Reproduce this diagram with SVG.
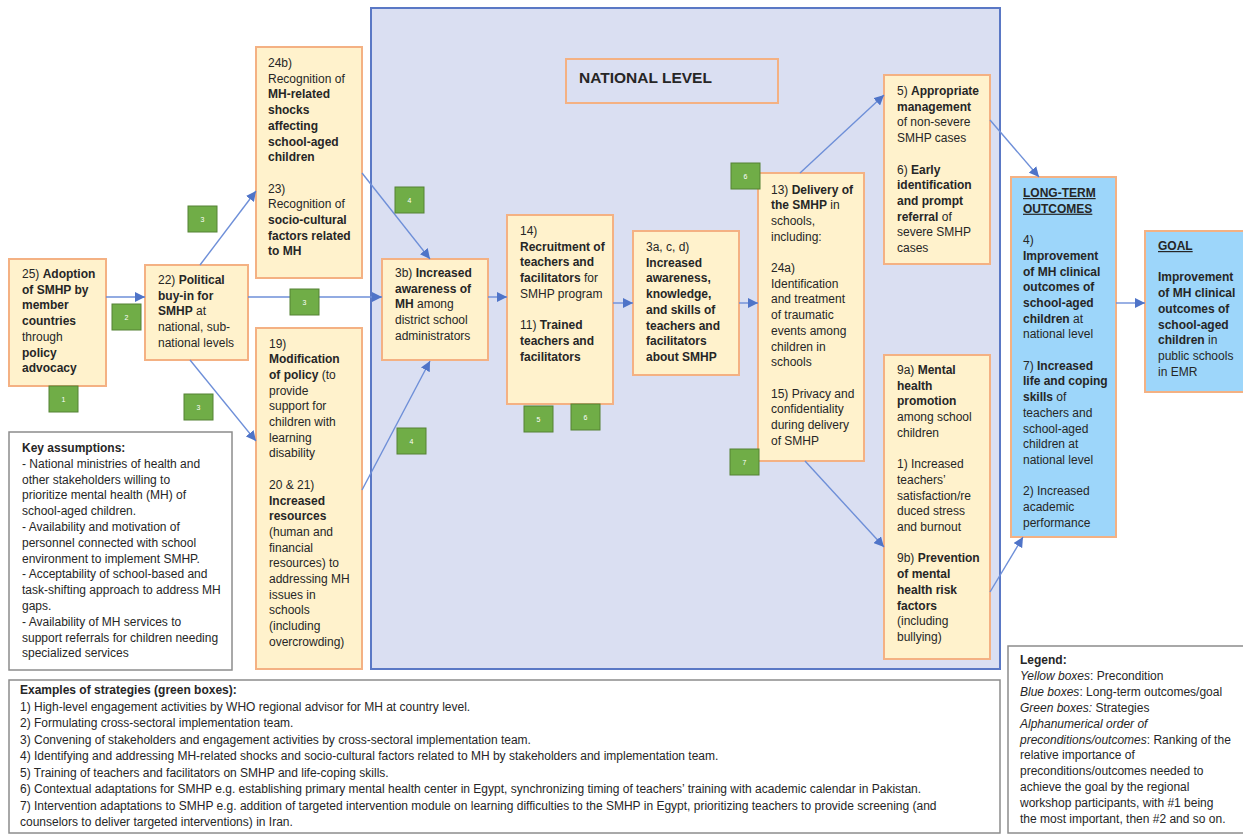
<svg xmlns="http://www.w3.org/2000/svg" width="1243" height="835" viewBox="0 0 1243 835">
<style>
.t{font-family:"Liberation Sans",Arial,sans-serif;font-size:12px;fill:#262626}
.b{font-weight:bold}
.i{font-style:italic}
.u{text-decoration:underline}
.yb{fill:#FFF2CC;stroke:#F4B183;stroke-width:2}
.bb{fill:#9DD6FA;stroke:#F4B183;stroke-width:2}
.gb{fill:#70AD47;stroke:#548235;stroke-width:1}
.gt{font-family:"Liberation Sans",Arial,sans-serif;font-size:7px;fill:#ffffff;text-anchor:middle}
.wb{fill:#ffffff;stroke:#8C8C8C;stroke-width:1.5}
.c{fill:none;stroke:#6E8FD8;stroke-width:1.4}
</style>
<defs>
<marker id="ah" markerUnits="userSpaceOnUse" markerWidth="11" markerHeight="10" refX="10" refY="5" orient="auto">
<path d="M0,0 L10,5 L0,10 Z" fill="#4F74C8"/>
</marker>
</defs>
<rect x="0" y="0" width="1243" height="835" fill="#ffffff"/>

<g id="national-panel">
<rect x="371" y="8" width="629" height="661" fill="#DADFF2" stroke="#5A78C5" stroke-width="2"/>
<rect x="566" y="59" width="212" height="44" fill="#FFF2CC" stroke="#F4B183" stroke-width="2" fill-opacity="0"/>
<text class="t b" x="579" y="83" style="font-size:15.5px">NATIONAL LEVEL</text>
</g>

<g id="n25">
<rect class="yb" x="9" y="259" width="97" height="127"/>
<text class="t" x="22" y="278">25) <tspan class="b">Adoption</tspan></text>
<text class="t b" x="22" y="293.7">of SMHP by</text>
<text class="t b" x="22" y="309.4">member</text>
<text class="t b" x="22" y="325.1">countries</text>
<text class="t" x="22" y="340.8">through</text>
<text class="t b" x="22" y="356.5">policy</text>
<text class="t b" x="22" y="372.2">advocacy</text>
</g>

<g id="n22">
<rect class="yb" x="145" y="265" width="103" height="95"/>
<text class="t" x="158" y="284">22) <tspan class="b">Political</tspan></text>
<text class="t b" x="158" y="299.7">buy-in for</text>
<text class="t" x="158" y="315.4"><tspan class="b">SMHP</tspan> at</text>
<text class="t" x="158" y="331.1">national, sub-</text>
<text class="t" x="158" y="346.8">national levels</text>
</g>

<g id="n24b">
<rect class="yb" x="256" y="47" width="106" height="231"/>
<text class="t" x="268" y="67">24b)</text>
<text class="t" x="268" y="82.7">Recognition of</text>
<text class="t b" x="268" y="98.4">MH-related</text>
<text class="t b" x="268" y="114.1">shocks</text>
<text class="t b" x="268" y="129.8">affecting</text>
<text class="t b" x="268" y="145.5">school-aged</text>
<text class="t b" x="268" y="161.2">children</text>
<text class="t" x="268" y="192.6">23)</text>
<text class="t" x="268" y="208.3">Recognition of</text>
<text class="t b" x="268" y="224">socio-cultural</text>
<text class="t b" x="268" y="239.7">factors related</text>
<text class="t b" x="268" y="255.4">to MH</text>
</g>

<g id="n19">
<rect class="yb" x="256" y="328" width="106" height="341"/>
<text class="t" x="269" y="347.5">19)</text>
<text class="t b" x="269" y="363.2">Modification</text>
<text class="t" x="269" y="378.9"><tspan class="b">of policy</tspan> (to</text>
<text class="t" x="269" y="394.6">provide</text>
<text class="t" x="269" y="410.3">support for</text>
<text class="t" x="269" y="426">children with</text>
<text class="t" x="269" y="441.7">learning</text>
<text class="t" x="269" y="457.4">disability</text>
<text class="t" x="269" y="488.8">20 &amp; 21)</text>
<text class="t b" x="269" y="504.5">Increased</text>
<text class="t b" x="269" y="520.2">resources</text>
<text class="t" x="269" y="535.9">(human and</text>
<text class="t" x="269" y="551.6">financial</text>
<text class="t" x="269" y="567.3">resources) to</text>
<text class="t" x="269" y="583">addressing MH</text>
<text class="t" x="269" y="598.7">issues in</text>
<text class="t" x="269" y="614.4">schools</text>
<text class="t" x="269" y="630.1">(including</text>
<text class="t" x="269" y="645.8">overcrowding)</text>
</g>

<g id="n3b">
<rect class="yb" x="382" y="259" width="106" height="101"/>
<text class="t" x="395" y="277">3b) <tspan class="b">Increased</tspan></text>
<text class="t b" x="395" y="292.7">awareness of</text>
<text class="t" x="395" y="308.4"><tspan class="b">MH</tspan> among</text>
<text class="t" x="395" y="324.1">district school</text>
<text class="t" x="395" y="339.8">administrators</text>
</g>

<g id="n14">
<rect class="yb" x="507" y="215" width="106" height="189"/>
<text class="t" x="520" y="235">14)</text>
<text class="t b" x="520" y="250.7">Recruitment of</text>
<text class="t b" x="520" y="266.4">teachers and</text>
<text class="t" x="520" y="282.1"><tspan class="b">facilitators</tspan> for</text>
<text class="t" x="520" y="297.8">SMHP program</text>
<text class="t" x="520" y="329.2">11) <tspan class="b">Trained</tspan></text>
<text class="t b" x="520" y="344.9">teachers and</text>
<text class="t b" x="520" y="360.6">facilitators</text>
</g>

<g id="n3a">
<rect class="yb" x="633" y="231" width="106" height="144"/>
<text class="t" x="646" y="251">3a, c, d)</text>
<text class="t b" x="646" y="266.7">Increased</text>
<text class="t b" x="646" y="282.4">awareness,</text>
<text class="t b" x="646" y="298.1">knowledge,</text>
<text class="t b" x="646" y="313.8">and skills of</text>
<text class="t b" x="646" y="329.5">teachers and</text>
<text class="t b" x="646" y="345.2">facilitators</text>
<text class="t b" x="646" y="360.9">about SMHP</text>
</g>

<g id="n13">
<rect class="yb" x="758" y="173" width="106" height="288"/>
<text class="t" x="771" y="193.5">13) <tspan class="b">Delivery of</tspan></text>
<text class="t" x="771" y="209.2"><tspan class="b">the SMHP</tspan> in</text>
<text class="t" x="771" y="224.9">schools,</text>
<text class="t" x="771" y="240.6">including:</text>
<text class="t" x="771" y="272">24a)</text>
<text class="t" x="771" y="287.7">Identification</text>
<text class="t" x="771" y="303.4">and treatment</text>
<text class="t" x="771" y="319.1">of traumatic</text>
<text class="t" x="771" y="334.8">events among</text>
<text class="t" x="771" y="350.5">children in</text>
<text class="t" x="771" y="366.2">schools</text>
<text class="t" x="771" y="397.6">15) Privacy and</text>
<text class="t" x="771" y="413.3">confidentiality</text>
<text class="t" x="771" y="429">during delivery</text>
<text class="t" x="771" y="444.7">of SMHP</text>
</g>

<g id="n5-6">
<rect class="yb" x="884" y="75" width="106" height="189"/>
<text class="t" x="897" y="95">5) <tspan class="b">Appropriate</tspan></text>
<text class="t b" x="897" y="110.7">management</text>
<text class="t" x="897" y="126.4">of non-severe</text>
<text class="t" x="897" y="142.1">SMHP cases</text>
<text class="t" x="897" y="173.5">6) <tspan class="b">Early</tspan></text>
<text class="t b" x="897" y="189.2">identification</text>
<text class="t b" x="897" y="204.9">and prompt</text>
<text class="t" x="897" y="220.6"><tspan class="b">referral</tspan> of</text>
<text class="t" x="897" y="236.3">severe SMHP</text>
<text class="t" x="897" y="252">cases</text>
</g>

<g id="n9">
<rect class="yb" x="884" y="355" width="106" height="304"/>
<text class="t" x="897" y="374">9a) <tspan class="b">Mental</tspan></text>
<text class="t b" x="897" y="389.7">health</text>
<text class="t b" x="897" y="405.4">promotion</text>
<text class="t" x="897" y="421.1">among school</text>
<text class="t" x="897" y="436.8">children</text>
<text class="t" x="897" y="468.2">1) Increased</text>
<text class="t" x="897" y="483.9">teachers’</text>
<text class="t" x="897" y="499.6">satisfaction/re</text>
<text class="t" x="897" y="515.3">duced stress</text>
<text class="t" x="897" y="531">and burnout</text>
<text class="t" x="897" y="562.4">9b) <tspan class="b">Prevention</tspan></text>
<text class="t b" x="897" y="578.1">of mental</text>
<text class="t b" x="897" y="593.8">health risk</text>
<text class="t b" x="897" y="609.5">factors</text>
<text class="t" x="897" y="625.2">(including</text>
<text class="t" x="897" y="640.9">bullying)</text>
</g>

<g id="long-term-outcomes">
<rect class="bb" x="1011" y="177" width="105" height="360"/>
<text class="t b u" x="1023" y="197">LONG-TERM</text>
<text class="t b u" x="1023" y="212.7">OUTCOMES</text>
<text class="t" x="1023" y="244.1">4)</text>
<text class="t b" x="1023" y="259.8">Improvement</text>
<text class="t b" x="1023" y="275.5">of MH clinical</text>
<text class="t b" x="1023" y="291.2">outcomes of</text>
<text class="t b" x="1023" y="306.9">school-aged</text>
<text class="t" x="1023" y="322.6"><tspan class="b">children</tspan> at</text>
<text class="t" x="1023" y="338.3">national level</text>
<text class="t" x="1023" y="369.7">7) <tspan class="b">Increased</tspan></text>
<text class="t b" x="1023" y="385.4">life and coping</text>
<text class="t" x="1023" y="401.1"><tspan class="b">skills</tspan> of</text>
<text class="t" x="1023" y="416.8">teachers and</text>
<text class="t" x="1023" y="432.5">school-aged</text>
<text class="t" x="1023" y="448.2">children at</text>
<text class="t" x="1023" y="463.9">national level</text>
<text class="t" x="1023" y="495.3">2) Increased</text>
<text class="t" x="1023" y="511">academic</text>
<text class="t" x="1023" y="526.7">performance</text>
</g>

<g id="goal">
<rect class="bb" x="1145" y="231" width="100" height="161"/>
<text class="t b u" x="1158" y="250">GOAL</text>
<text class="t b" x="1158" y="281.4">Improvement</text>
<text class="t b" x="1158" y="297.1">of MH clinical</text>
<text class="t b" x="1158" y="312.8">outcomes of</text>
<text class="t b" x="1158" y="328.5">school-aged</text>
<text class="t" x="1158" y="344.2"><tspan class="b">children</tspan> in</text>
<text class="t" x="1158" y="359.9">public schools</text>
<text class="t" x="1158" y="375.6">in EMR</text>
</g>

<g id="connectors">
<line class="c" x1="106" y1="297" x2="145" y2="297" marker-end="url(#ah)"/>
<line class="c" x1="200" y1="265" x2="256" y2="191" marker-end="url(#ah)"/>
<line class="c" x1="248" y1="297" x2="382" y2="297" marker-end="url(#ah)"/>
<line class="c" x1="190" y1="360" x2="256" y2="441" marker-end="url(#ah)"/>
<line class="c" x1="362" y1="173" x2="430" y2="259" marker-end="url(#ah)"/>
<line class="c" x1="362" y1="490" x2="430" y2="361" marker-end="url(#ah)"/>
<line class="c" x1="488" y1="297" x2="507" y2="297" marker-end="url(#ah)"/>
<line class="c" x1="613" y1="303" x2="633" y2="303" marker-end="url(#ah)"/>
<line class="c" x1="739" y1="303" x2="758" y2="303" marker-end="url(#ah)"/>
<line class="c" x1="800" y1="173" x2="884" y2="95" marker-end="url(#ah)"/>
<line class="c" x1="805" y1="461" x2="884" y2="547" marker-end="url(#ah)"/>
<line class="c" x1="990" y1="120" x2="1039" y2="177" marker-end="url(#ah)"/>
<line class="c" x1="990" y1="592" x2="1023" y2="537" marker-end="url(#ah)"/>
<line class="c" x1="1116" y1="303" x2="1145" y2="303" marker-end="url(#ah)"/>
</g>

<g id="s1"><rect class="gb" x="49" y="386" width="29" height="26"/><text class="gt" x="63.5" y="401.5">1</text></g>
<g id="s2"><rect class="gb" x="112" y="304" width="29" height="26"/><text class="gt" x="126.5" y="319.5">2</text></g>
<g id="s3a"><rect class="gb" x="188" y="206" width="29" height="26"/><text class="gt" x="202.5" y="221.5">3</text></g>
<g id="s3b"><rect class="gb" x="290" y="289" width="29" height="26"/><text class="gt" x="304.5" y="304.5">3</text></g>
<g id="s3c"><rect class="gb" x="184" y="394" width="29" height="26"/><text class="gt" x="198.5" y="409.5">3</text></g>
<g id="s4a"><rect class="gb" x="395" y="187" width="29" height="26"/><text class="gt" x="409.5" y="202.5">4</text></g>
<g id="s4b"><rect class="gb" x="397" y="428" width="29" height="26"/><text class="gt" x="411.5" y="443.5">4</text></g>
<g id="s5"><rect class="gb" x="524" y="406" width="29" height="26"/><text class="gt" x="538.5" y="421.5">5</text></g>
<g id="s6a"><rect class="gb" x="571" y="404" width="29" height="26"/><text class="gt" x="585.5" y="419.5">6</text></g>
<g id="s6b"><rect class="gb" x="731" y="163" width="29" height="26"/><text class="gt" x="745.5" y="178.5">6</text></g>
<g id="s7"><rect class="gb" x="730" y="449" width="29" height="26"/><text class="gt" x="744.5" y="464.5">7</text></g>

<g id="key-assumptions">
<rect class="wb" x="9" y="432" width="223" height="238"/>
<text class="t b" x="22" y="452">Key assumptions:</text>
<text class="t" x="22" y="467.8">- National ministries of health and</text>
<text class="t" x="22" y="483.6">other stakeholders willing to</text>
<text class="t" x="22" y="499.4">prioritize mental health (MH) of</text>
<text class="t" x="22" y="515.2">school-aged children.</text>
<text class="t" x="22" y="531">- Availability and motivation of</text>
<text class="t" x="22" y="546.8">personnel connected with school</text>
<text class="t" x="22" y="562.6">environment to implement SMHP.</text>
<text class="t" x="22" y="578.4">- Acceptability of school-based and</text>
<text class="t" x="22" y="594.2">task-shifting approach to address MH</text>
<text class="t" x="22" y="610">gaps.</text>
<text class="t" x="22" y="625.8">- Availability of MH services to</text>
<text class="t" x="22" y="641.6">support referrals for children needing</text>
<text class="t" x="22" y="657.4">specialized services</text>
</g>

<g id="strategies">
<rect class="wb" x="9" y="680" width="991" height="153"/>
<text class="t b" x="20" y="694">Examples of strategies (green boxes):</text>
<text class="t" x="20" y="710.5">1) High-level engagement activities by WHO regional advisor for MH at country level.</text>
<text class="t" x="20" y="727">2) Formulating cross-sectoral implementation team.</text>
<text class="t" x="20" y="743.5">3) Convening of stakeholders and engagement activities by cross-sectoral implementation team.</text>
<text class="t" x="20" y="760">4) Identifying and addressing MH-related shocks and socio-cultural factors related to MH by stakeholders and implementation team.</text>
<text class="t" x="20" y="776.5">5) Training of teachers and facilitators on SMHP and life-coping skills.</text>
<text class="t" x="20" y="793">6) Contextual adaptations for SMHP e.g. establishing primary mental health center in Egypt, synchronizing timing of teachers’ training with academic calendar in Pakistan.</text>
<text class="t" x="20" y="809.5">7) Intervention adaptations to SMHP e.g. addition of targeted intervention module on learning difficulties to the SMHP in Egypt, prioritizing teachers to provide screening (and</text>
<text class="t" x="20" y="826">counselors to deliver targeted interventions) in Iran.</text>
</g>

<g id="legend">
<rect class="wb" x="1008" y="646" width="240" height="187"/>
<text class="t b" x="1020" y="664">Legend:</text>
<text class="t" x="1020" y="679.9"><tspan class="i">Yellow boxes</tspan>: Precondition</text>
<text class="t" x="1020" y="695.8"><tspan class="i">Blue boxes</tspan>: Long-term outcomes/goal</text>
<text class="t" x="1020" y="711.7"><tspan class="i">Green boxes:</tspan> Strategies</text>
<text class="t i" x="1020" y="727.6">Alphanumerical order of</text>
<text class="t" x="1020" y="743.5"><tspan class="i">preconditions/outcomes</tspan>: Ranking of the</text>
<text class="t" x="1020" y="759.4">relative importance of</text>
<text class="t" x="1020" y="775.3">preconditions/outcomes needed to</text>
<text class="t" x="1020" y="791.2">achieve the goal by the regional</text>
<text class="t" x="1020" y="807.1">workshop participants, with #1 being</text>
<text class="t" x="1020" y="823">the most important, then #2 and so on.</text>
</g>
</svg>
